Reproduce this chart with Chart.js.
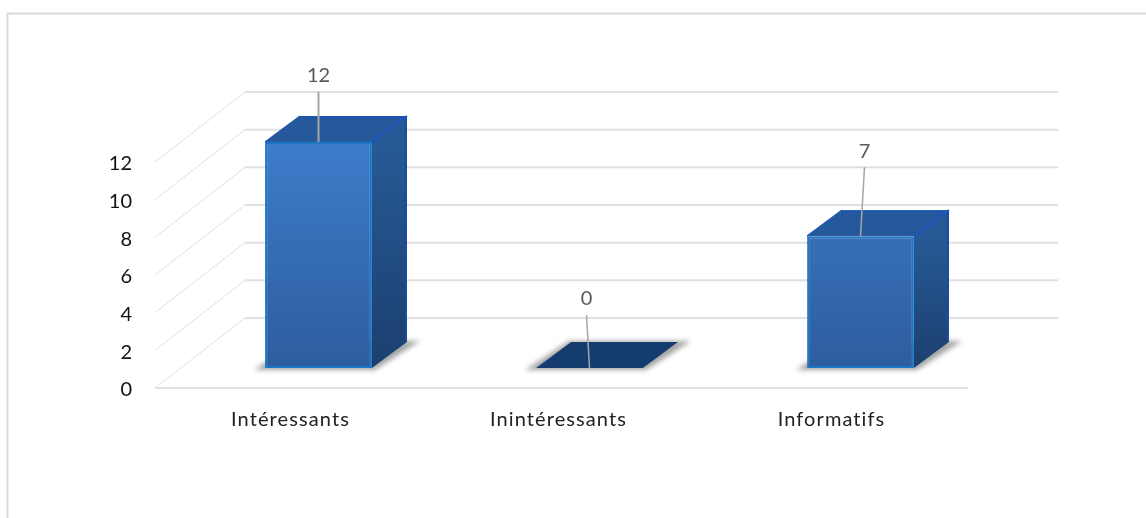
<!DOCTYPE html>
<html lang="fr">
<head>
<meta charset="utf-8">
<title>Graphique</title>
<script src="https://cdn.jsdelivr.net/npm/chart.js@4"></script>
<style>
    html, body { margin: 0; padding: 0; background: #fff; overflow: hidden; }
    #wrap { width: 1146px; height: 518px; }
</style>
</head>
<body>
<div id="wrap"><canvas id="barChart" width="1146" height="518"></canvas></div>
<script>
const categories = ["Intéressants", "Inintéressants", "Informatifs"];
const values = [12, 0, 7];
const yTicks = [0, 2, 4, 6, 8, 10, 12];

// Leader line and value label placement, per bar
const labelLift = [66, 69, 85];
const labelShift = [0, -3, 4];
// Category label centres sit on the front edge of the floor
const categoryShift = [-28, -31, -29];

// Fake 3D: offsets from the plane of the bar fronts
const FRONT = { dx: -28, dy: 20 };
const BACK = { dx: 62, dy: -50 };
const DEPTH = { dx: 35, dy: -26 };

const FONT = "Lato, 'Open Sans', sans-serif";
const GRID = "#e0e0e0";

function poly(ctx, pts, fill) {
    ctx.beginPath();
    pts.forEach((p, i) => i ? ctx.lineTo(p[0], p[1]) : ctx.moveTo(p[0], p[1]));
    ctx.closePath();
    ctx.fillStyle = fill;
    ctx.fill();
}

function line(ctx, x1, y1, x2, y2, color, width) {
    ctx.beginPath();
    ctx.moveTo(x1, y1);
    ctx.lineTo(x2, y2);
    ctx.strokeStyle = color;
    ctx.lineWidth = width;
    ctx.stroke();
}

const frame = {
    id: "frame",
    beforeDraw(chart) {
        const ctx = chart.ctx;
        ctx.save();
        line(ctx, 7, 13.5, 1146, 13.5, "#dadada", 2);
        line(ctx, 7.5, 13, 7.5, 518, "#dadada", 2);
        ctx.restore();
    }
};

// Walls, floor and the side and top faces of the bars
const walls = {
    id: "walls",
    beforeDatasetsDraw(chart) {
        const ctx = chart.ctx;
        const area = chart.chartArea;
        const y = chart.scales.y;
        ctx.save();

        yTicks.forEach(t => {
            const py = y.getPixelForValue(t);
            const backLeft = area.left + BACK.dx;
            line(ctx, backLeft, py + BACK.dy, area.right + BACK.dx, py + BACK.dy, GRID, 2);
            line(ctx, area.left + FRONT.dx, py + FRONT.dy, backLeft, py + BACK.dy, GRID, 1);
        });
        const floorY = y.getPixelForValue(0) + FRONT.dy;
        line(ctx, area.left + FRONT.dx, floorY, area.right + FRONT.dx, floorY, GRID, 2);

        chart.getDatasetMeta(0).data.forEach((bar, i) => {
            const x0 = bar.x - bar.width / 2;
            const x1 = bar.x + bar.width / 2;
            const top = bar.y;
            const base = y.getPixelForValue(0);

            // soft shadow on the floor
            ctx.save();
            ctx.filter = "blur(2.5px)";
            poly(ctx, [
                [x0 - 11, base + 2],
                [x1 + 3, base + 2],
                [x1 + DEPTH.dx + 13, base + DEPTH.dy - 1],
                [x0 + DEPTH.dx - 2, base + DEPTH.dy - 1]
            ], "rgba(90,90,90,0.55)");
            ctx.restore();

            if (values[i] > 0) {
                const side = ctx.createLinearGradient(0, top, 0, base);
                side.addColorStop(0, "#265a96");
                side.addColorStop(1, "#1c3f6f");
                poly(ctx, [
                    [x1, top],
                    [x1 + DEPTH.dx, top + DEPTH.dy],
                    [x1 + DEPTH.dx, base + DEPTH.dy],
                    [x1, base]
                ], side);
                line(ctx, x1 + DEPTH.dx - 1, top + DEPTH.dy, x1 + DEPTH.dx - 1, base + DEPTH.dy, "#1a4c9e", 2);
            }

            poly(ctx, [
                [x0, top],
                [x0 + DEPTH.dx, top + DEPTH.dy],
                [x1 + DEPTH.dx, top + DEPTH.dy],
                [x1, top]
            ], values[i] > 0 ? "#26599b" : "#143c6e");
            if (values[i] > 0) {
                line(ctx, x0 + DEPTH.dx, top + DEPTH.dy + 1, x1 + DEPTH.dx, top + DEPTH.dy + 1, "#1c55ae", 2);
                line(ctx, x1, top, x1 + DEPTH.dx, top + DEPTH.dy, "#1c55c0", 2);
                line(ctx, x0, top, x0 + DEPTH.dx, top + DEPTH.dy, "#1c55ae", 1.5);
            }
        });
        ctx.restore();
    }
};

// Category names, leader lines and value labels
const labels = {
    id: "labels",
    afterDatasetsDraw(chart) {
        const ctx = chart.ctx;
        ctx.save();
        ctx.textAlign = "center";
        ctx.textBaseline = "middle";
        ctx.font = "20px " + FONT;

        ctx.letterSpacing = "1.1px";
        categories.forEach((name, i) => {
            ctx.fillStyle = "#222";
            ctx.fillText(name, chart.scales.x.getPixelForValue(i) + categoryShift[i], 420);
        });
        ctx.letterSpacing = "0px";

        chart.getDatasetMeta(0).data.forEach((bar, i) => {
            const lx = bar.x + labelShift[i];
            const ly = bar.y - labelLift[i];
            line(ctx, bar.x, bar.y, lx, ly + 16, "#a6a6a6", i === 0 ? 2 : 1.5);
            ctx.fillStyle = "#595959";
            ctx.fillText(String(values[i]), lx, ly);
        });
        ctx.restore();
    }
};

new Chart(document.getElementById("barChart"), {
    type: "bar",
    data: {
        labels: categories,
        datasets: [{
            data: values,
            categoryPercentage: 1,
            barPercentage: 0.394,
            backgroundColor(ctx) {
                const area = ctx.chart.chartArea;
                if (!area) return "#3370b8";
                const g = ctx.chart.ctx.createLinearGradient(0, area.top, 0, area.bottom);
                g.addColorStop(0, "#3d7cca");
                g.addColorStop(1, "#2d5d9e");
                return g;
            },
            borderColor: "#1c76c6",
            borderWidth: 2,
            borderSkipped: false
        }]
    },
    plugins: [frame, walls, labels],
    options: {
        responsive: false,
        animation: false,
        layout: { padding: { top: 142, right: 150, bottom: 150 } },
        plugins: { legend: { display: false }, tooltip: { enabled: false } },
        scales: {
            x: { display: false },
            y: {
                min: 0,
                max: 12,
                afterFit(scale) { scale.width = 183; },
                afterBuildTicks(scale) { scale.ticks = yTicks.map(v => ({ value: v })); },
                grid: { display: false, drawTicks: false },
                border: { display: false },
                ticks: {
                    padding: 51,
                    labelOffset: 22,
                    color: "#111",
                    font: { family: FONT, size: 20 }
                }
            }
        }
    }
});
</script>
</body>
</html>
